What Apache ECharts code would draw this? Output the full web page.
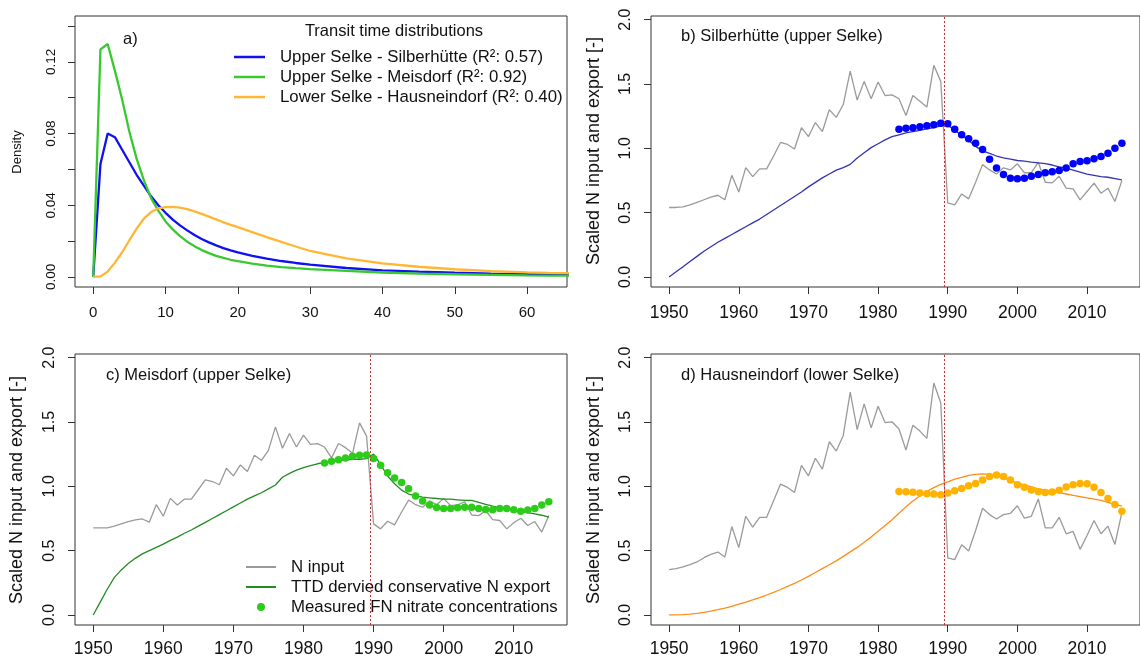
<!DOCTYPE html>
<html>
<head>
<meta charset="utf-8">
<script src="https://cdn.jsdelivr.net/npm/echarts@6/dist/echarts.min.js"></script>
<style>
  html, body { margin: 0; padding: 0; background: #fff; }
  #chart { width: 1140px; height: 662px; }
</style>
</head>
<body>
<div id="chart"></div>
<script>
// transit time distributions (panel a)
const ttdAge = [0, 1, 2, 3, 4, 5, 6, 7, 8, 9, 10, 11, 12, 13, 14, 15, 16, 17, 18, 19, 20,
  22, 24, 26, 28, 30, 35, 40, 45, 50, 55, 60, 63, 66]
const ttdSilberhuette = [0, 0.063, 0.080, 0.078, 0.071, 0.064, 0.057, 0.051, 0.045, 0.040, 0.0358,
  0.032, 0.0288, 0.026, 0.0234, 0.0212, 0.0193, 0.0176, 0.0161, 0.0148, 0.0137,
  0.0118, 0.0102, 0.0089, 0.0078, 0.0069, 0.005, 0.0037, 0.003, 0.0024, 0.0019, 0.0015, 0.0014, 0.0013]
const ttdMeisdorf = [0, 0.127, 0.130, 0.115, 0.099, 0.081, 0.066, 0.054, 0.044, 0.037, 0.031,
  0.0265, 0.0228, 0.0197, 0.0172, 0.015, 0.0133, 0.0118, 0.0106, 0.0096, 0.0088,
  0.0074, 0.0063, 0.0055, 0.0049, 0.0044, 0.0034, 0.0025, 0.0019, 0.0015, 0.0012, 0.0009, 0.0008, 0.0007]
const ttdHausneindorf = [0, 0.0003, 0.003, 0.008, 0.0138, 0.0205, 0.027, 0.0325, 0.0362, 0.0383, 0.0390,
  0.0391, 0.0387, 0.0378, 0.0366, 0.0352, 0.0337, 0.0321, 0.0305, 0.0291, 0.0278,
  0.0250, 0.0222, 0.0196, 0.0170, 0.0145, 0.0104, 0.0076, 0.0057, 0.0043, 0.0033, 0.0026, 0.0023, 0.0021]

// yearly series (panels b-d)
const years = [1950, 1951, 1952, 1953, 1954, 1955, 1956, 1957, 1958, 1959,
  1960, 1961, 1962, 1963, 1964, 1965, 1966, 1967, 1968, 1969,
  1970, 1971, 1972, 1973, 1974, 1975, 1976, 1977, 1978, 1979,
  1980, 1981, 1982, 1983, 1984, 1985, 1986, 1987, 1988, 1989,
  1990, 1991, 1992, 1993, 1994, 1995, 1996, 1997, 1998, 1999,
  2000, 2001, 2002, 2003, 2004, 2005, 2006, 2007, 2008, 2009,
  2010, 2011, 2012, 2013, 2014, 2015]
const measuredYears = [1983, 1984, 1985, 1986, 1987, 1988, 1989, 1990, 1991, 1992,
  1993, 1994, 1995, 1996, 1997, 1998, 1999, 2000, 2001, 2002,
  2003, 2004, 2005, 2006, 2007, 2008, 2009, 2010, 2011, 2012,
  2013, 2014, 2015]

const inputSilberhuette = [0.54, 0.54, 0.545, 0.56, 0.58, 0.60, 0.62, 0.635, 0.60, 0.79,
  0.66, 0.85, 0.78, 0.84, 0.84, 0.94, 1.045, 1.03, 0.995, 1.16,
  1.09, 1.20, 1.13, 1.30, 1.24, 1.34, 1.60, 1.375, 1.52, 1.385,
  1.515, 1.41, 1.415, 1.385, 1.255, 1.41, 1.365, 1.32, 1.645, 1.52,
  0.575, 0.56, 0.645, 0.607, 0.736, 0.873, 0.832, 0.80, 0.848, 0.832,
  0.879, 0.81, 0.81, 0.891, 0.736, 0.731, 0.783, 0.69, 0.685, 0.599,
  0.664, 0.729, 0.651, 0.69, 0.587, 0.749]
const exportSilberhuette = [0.00, 0.04, 0.08, 0.12, 0.16, 0.20, 0.235, 0.27, 0.30, 0.33,
  0.36, 0.39, 0.42, 0.45, 0.485, 0.52, 0.555, 0.59, 0.625, 0.66,
  0.70, 0.735, 0.77, 0.80, 0.83, 0.85, 0.875, 0.925, 0.965, 1.005,
  1.035, 1.065, 1.09, 1.105, 1.12, 1.13, 1.14, 1.15, 1.16, 1.175,
  1.18, 1.14, 1.10, 1.06, 1.015, 0.98, 0.96, 0.94, 0.925, 0.915,
  0.905, 0.90, 0.893, 0.887, 0.88, 0.87, 0.855, 0.845, 0.83, 0.815,
  0.80, 0.79, 0.78, 0.775, 0.765, 0.755]
const measuredSilberhuette = [1.148, 1.155, 1.16, 1.168, 1.176, 1.183, 1.195, 1.19, 1.148, 1.105,
  1.075, 1.04, 0.99, 0.915, 0.847, 0.797, 0.768, 0.763, 0.768, 0.783,
  0.797, 0.81, 0.818, 0.828, 0.846, 0.88, 0.898, 0.903, 0.918, 0.937,
  0.962, 1.0, 1.04]

const inputMeisdorf = [0.677, 0.677, 0.677, 0.69, 0.708, 0.726, 0.739, 0.746, 0.721, 0.857,
  0.767, 0.906, 0.855, 0.90, 0.90, 0.975, 1.05, 1.037, 1.012, 1.14,
  1.081, 1.166, 1.115, 1.241, 1.202, 1.279, 1.462, 1.295, 1.41, 1.305,
  1.398, 1.326, 1.331, 1.305, 1.22, 1.333, 1.30, 1.256, 1.493, 1.39,
  0.708, 0.669, 0.728, 0.70, 0.80, 0.893, 0.857, 0.837, 0.888, 0.857,
  0.906, 0.849, 0.855, 0.88, 0.777, 0.772, 0.81, 0.741, 0.734, 0.669,
  0.716, 0.752, 0.695, 0.726, 0.644, 0.772]
const exportMeisdorf = [0.0, 0.10, 0.20, 0.29, 0.35, 0.40, 0.44, 0.475, 0.50, 0.525,
  0.55, 0.58, 0.605, 0.635, 0.66, 0.69, 0.72, 0.75, 0.78, 0.81,
  0.84, 0.87, 0.90, 0.925, 0.95, 0.98, 1.01, 1.07, 1.10, 1.125,
  1.145, 1.16, 1.175, 1.185, 1.195, 1.20, 1.205, 1.21, 1.21, 1.215,
  1.25, 1.17, 1.08, 1.02, 0.97, 0.94, 0.925, 0.915, 0.91, 0.905,
  0.90, 0.90, 0.895, 0.89, 0.89, 0.875, 0.86, 0.845, 0.835, 0.83,
  0.82, 0.805, 0.795, 0.785, 0.775, 0.76]
const measuredMeisdorf = [1.18, 1.195, 1.207, 1.22, 1.233, 1.242, 1.243, 1.215, 1.163, 1.105,
  1.065, 1.03, 0.98, 0.925, 0.885, 0.855, 0.835, 0.827, 0.827, 0.833,
  0.838, 0.838, 0.827, 0.82, 0.818, 0.827, 0.827, 0.818, 0.806, 0.815,
  0.827, 0.854, 0.88]

const inputHausneindorf = [0.353, 0.36, 0.373, 0.392, 0.412, 0.445, 0.471, 0.489, 0.45, 0.687,
  0.523, 0.767, 0.682, 0.759, 0.759, 0.888, 1.017, 0.991, 0.952, 1.163,
  1.081, 1.218, 1.133, 1.346, 1.274, 1.395, 1.732, 1.441, 1.64, 1.454,
  1.622, 1.495, 1.501, 1.445, 1.282, 1.475, 1.429, 1.372, 1.802, 1.647,
  0.443, 0.43, 0.546, 0.497, 0.656, 0.829, 0.78, 0.746, 0.78, 0.79,
  0.849, 0.752, 0.767, 0.901, 0.677, 0.677, 0.759, 0.631, 0.649, 0.51,
  0.618, 0.734, 0.631, 0.69, 0.548, 0.798]
const exportHausneindorf = [0.0, 0.0, 0.002, 0.006, 0.012, 0.02, 0.03, 0.041, 0.053, 0.066,
  0.085, 0.1, 0.117, 0.135, 0.155, 0.176, 0.198, 0.222, 0.246, 0.272,
  0.30, 0.33, 0.36, 0.39, 0.42, 0.455, 0.49, 0.525, 0.565, 0.605,
  0.65, 0.695, 0.74, 0.79, 0.84, 0.885, 0.925, 0.96, 0.99, 1.015,
  1.035, 1.055, 1.07, 1.085, 1.093, 1.097, 1.092, 1.08, 1.065, 1.045,
  1.025, 1.01, 0.995, 0.98, 0.97, 0.96, 0.95, 0.94, 0.93, 0.92,
  0.91, 0.9, 0.89, 0.875, 0.86, 0.845]
const measuredHausneindorf = [0.96, 0.958, 0.953, 0.948, 0.942, 0.94, 0.935, 0.947, 0.965, 0.983,
  1.004, 1.022, 1.048, 1.076, 1.088, 1.076, 1.048, 1.012, 0.992, 0.972,
  0.96, 0.952, 0.955, 0.97, 0.995, 1.012, 1.022, 1.02, 0.993, 0.952,
  0.906, 0.858, 0.806]

// axis ticks
const ageTicks = [0, 10, 20, 30, 40, 50, 60]
const densityTicks = [0, 0.02, 0.04, 0.06, 0.08, 0.10, 0.12, 0.14]
const densityLabels = [0, 0.04, 0.08, 0.12]
const yearTicks = [1950, 1960, 1970, 1980, 1990, 2000, 2010]
const scaledTicks = [0, 0.5, 1.0, 1.5, 2.0]
const reunificationYear = 1989.5

const font = 'Liberation Sans, Arial, sans-serif'
const ink = '#111111'
const frame = '#333333'

const chart = echarts.init(document.getElementById('chart'), null, { renderer: 'canvas' })

const pairs = (xs, ys) => xs.map((x, i) => [x, ys[i]])

const gridBox = (left, top) => ({
  left, top, width: 492, height: 271,
  show: true, borderColor: frame, borderWidth: 1, backgroundColor: 'transparent'
})

const xAxisOf = (gridIndex, min, max, ticks, labelSize, margin) => ({
  type: 'value', gridIndex, min, max,
  axisLine: { show: false, onZero: false },
  splitLine: { show: false },
  axisTick: { show: true, length: 7, lineStyle: { color: frame }, customValues: ticks },
  axisLabel: {
    customValues: ticks, fontSize: labelSize, color: ink, fontFamily: font, margin,
    formatter: v => String(v)
  }
})

const yAxisOf = (gridIndex, min, max, ticks, labels, digits, labelSize) => ({
  type: 'value', gridIndex, min, max,
  axisLine: { show: false, onZero: false },
  splitLine: { show: false },
  axisTick: { show: true, length: 7, lineStyle: { color: frame }, customValues: ticks },
  axisLabel: {
    customValues: labels, rotate: 90, fontSize: labelSize, color: ink, fontFamily: font,
    margin: 17, formatter: v => v.toFixed(digits)
  }
})

const redLine = {
  silent: true,
  symbol: ['none', 'none'],
  label: { show: false },
  lineStyle: { color: '#d42a2a', type: [2, 2], width: 1 },
  data: [{ xAxis: reunificationYear }]
}

const panelSeries = (idx, input, exported, measured, lineColor, dotColor, exportName, measuredName) => [
  {
    type: 'line', name: 'N input', xAxisIndex: idx, yAxisIndex: idx,
    data: pairs(years, input), symbol: 'none',
    lineStyle: { color: '#9a9a9a', width: 1.3 }, itemStyle: { color: '#9a9a9a' },
    markLine: redLine, z: 2
  },
  {
    type: 'line', name: exportName, xAxisIndex: idx, yAxisIndex: idx,
    data: pairs(years, exported), symbol: 'none',
    lineStyle: { color: lineColor, width: 1.3 }, itemStyle: { color: lineColor }, z: 3
  },
  {
    type: 'scatter', name: measuredName, xAxisIndex: idx, yAxisIndex: idx,
    data: pairs(measuredYears, measured), symbolSize: 7.5,
    itemStyle: { color: dotColor, opacity: 1 }, z: 4
  }
]

const ttdLine = (name, values, color) => ({
  type: 'line', name, xAxisIndex: 0, yAxisIndex: 0,
  data: pairs(ttdAge, values), symbol: 'none', clip: true,
  lineStyle: { color, width: 2.3 }, itemStyle: { color }
})

const label = (text, x, y, size, rotation, align) => ({
  type: 'text', x, y, rotation: rotation || 0, silent: true,
  style: {
    text, fontSize: size, fontFamily: font, fill: ink,
    textAlign: align || (rotation ? 'center' : 'left'), textVerticalAlign: 'middle'
  }
})

const legendText = { fontSize: 16.8, lineHeight: 20, color: ink, fontFamily: font, padding: [0, 0, 0, 10] }

const option = {
  animation: false,
  backgroundColor: '#ffffff',
  grid: [gridBox(75, 16), gridBox(651, 16), gridBox(75, 354), gridBox(651, 354)],
  xAxis: [
    xAxisOf(0, -2.52, 65.52, ageTicks, 15, 18),
    xAxisOf(1, 1947.4, 2017.6, yearTicks, 17.5, 17),
    xAxisOf(2, 1947.4, 2017.6, yearTicks, 17.5, 15),
    xAxisOf(3, 1947.4, 2017.6, yearTicks, 17.5, 15)
  ],
  yAxis: [
    yAxisOf(0, -0.0056, 0.1456, densityTicks, densityLabels, 2, 13.5),
    yAxisOf(1, -0.078, 2.028, scaledTicks, scaledTicks, 1, 16),
    yAxisOf(2, -0.078, 2.028, scaledTicks, scaledTicks, 1, 16),
    yAxisOf(3, -0.078, 2.028, scaledTicks, scaledTicks, 1, 16)
  ],
  legend: [
    {
      data: ['Upper Selke - Silberhütte (R²: 0.57)', 'Upper Selke - Meisdorf (R²: 0.92)',
        'Lower Selke - Hausneindorf (R²: 0.40)'],
      orient: 'vertical', left: 234, top: 47, padding: 0, itemGap: 0,
      icon: 'rect', itemWidth: 31, itemHeight: 2.5, selectedMode: false,
      textStyle: legendText
    },
    {
      data: ['N input', 'TTD dervied conservative N export'],
      orient: 'vertical', left: 246, top: 557, padding: 0, itemGap: 0,
      icon: 'rect', itemWidth: 30, itemHeight: 2, selectedMode: false,
      textStyle: legendText
    },
    {
      data: ['Measured FN nitrate concentrations'],
      orient: 'vertical', left: 257, top: 597, padding: 0, itemGap: 0,
      icon: 'circle', itemWidth: 30, itemHeight: 8, selectedMode: false,
      textStyle: legendText
    }
  ],
  graphic: [
    label('a)', 123, 39, 16.5),
    label('Transit time distributions', 394, 31, 16.5, 0, 'center'),
    label('b) Silberhütte (upper Selke)', 681, 36, 16.5),
    label('c) Meisdorf (upper Selke)', 106, 375, 16.5),
    label('d) Hausneindorf (lower Selke)', 681, 375, 16.5),
    label('Density', 17, 152, 13, Math.PI / 2),
    label('Scaled N input and export [-]', 594, 151, 18, Math.PI / 2),
    label('Scaled N input and export [-]', 17, 490, 18, Math.PI / 2),
    label('Scaled N input and export [-]', 594, 490, 18, Math.PI / 2)
  ],
  series: [
    ttdLine('Upper Selke - Silberhütte (R²: 0.57)', ttdSilberhuette, '#1010f0'),
    ttdLine('Upper Selke - Meisdorf (R²: 0.92)', ttdMeisdorf, '#38c830'),
    ttdLine('Lower Selke - Hausneindorf (R²: 0.40)', ttdHausneindorf, '#ffb733'),
    ...panelSeries(1, inputSilberhuette, exportSilberhuette, measuredSilberhuette,
      '#3434b0', '#0000ff', 'TTD export Silberhütte', 'Measured Silberhütte'),
    ...panelSeries(2, inputMeisdorf, exportMeisdorf, measuredMeisdorf,
      '#228b22', '#2ecc1a', 'TTD dervied conservative N export', 'Measured FN nitrate concentrations'),
    ...panelSeries(3, inputHausneindorf, exportHausneindorf, measuredHausneindorf,
      '#ff8c1a', '#ffb300', 'TTD export Hausneindorf', 'Measured Hausneindorf')
  ]
}

chart.setOption(option)
</script>
</body>
</html>
